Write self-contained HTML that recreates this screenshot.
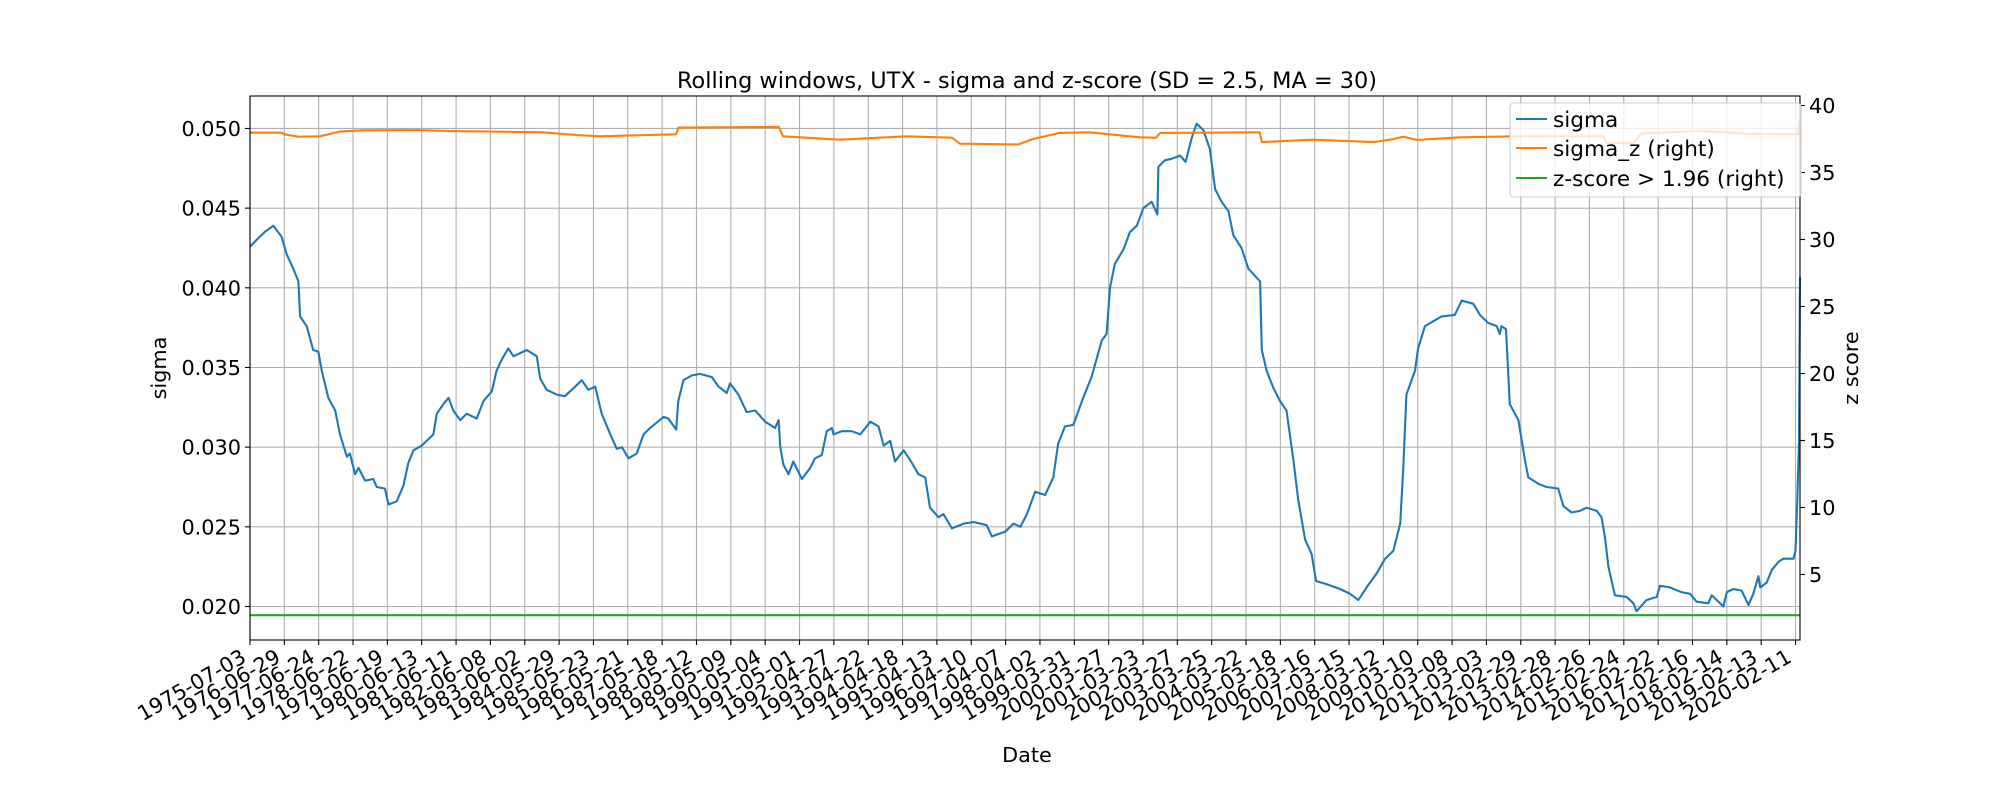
<!DOCTYPE html>
<html><head><meta charset="utf-8"><style>
html,body{margin:0;padding:0;background:#fff;}
svg{display:block;font-family:"DejaVu Sans","Liberation Sans",sans-serif;}
</style></head><body>
<svg id="chart" width="2000" height="800" viewBox="0 0 2000 800" xmlns="http://www.w3.org/2000/svg">
<rect x="0" y="0" width="2000" height="800" fill="#fff"/>
<g id="grid"></g>
<g id="series"></g>
<g id="axes"></g>
<text x="1027" y="88" font-size="22.4" text-anchor="middle">Rolling windows, UTX - sigma and z-score (SD = 2.5, MA = 30)</text>
<text x="1027" y="762" font-size="20.8" text-anchor="middle">Date</text>
<text transform="translate(166,368) rotate(-90)" font-size="20.8" text-anchor="middle">sigma</text>
<text transform="translate(1858,368) rotate(-90)" font-size="20.8" text-anchor="middle">z score</text>
<g>
<rect x="1510" y="103" width="291" height="94" rx="4" fill="#fff" fill-opacity="0.8" stroke="#cccccc" stroke-width="1.1"/>
<line x1="1516" y1="119" x2="1547" y2="119" stroke="#1f77b4" stroke-width="2.1"/>
<text x="1553" y="127" font-size="21.6">sigma</text>
<line x1="1516" y1="148" x2="1547" y2="148" stroke="#ff7f0e" stroke-width="2.1"/>
<text x="1553" y="156" font-size="21.6">sigma_z (right)</text>
<line x1="1516" y1="178" x2="1547" y2="178" stroke="#2ca02c" stroke-width="2.1"/>
<text x="1553" y="186" font-size="21.6">z-score &gt; 1.96 (right)</text>
</g>
</svg>
<script>
const tickDates = ["1975-07-03","1976-06-29","1977-06-24","1978-06-22","1979-06-19","1980-06-13","1981-06-11","1982-06-08","1983-06-02","1984-05-29","1985-05-23","1986-05-21","1987-05-18","1988-05-12","1989-05-09","1990-05-04","1991-05-01","1992-04-27","1993-04-22","1994-04-18","1995-04-13","1996-04-10","1997-04-07","1998-04-02","1999-03-31","2000-03-27","2001-03-23","2002-03-27","2003-03-25","2004-03-22","2005-03-18","2006-03-16","2007-03-15","2008-03-12","2009-03-10","2010-03-08","2011-03-03","2012-02-29","2013-02-28","2014-02-26","2015-02-24","2016-02-22","2017-02-16","2018-02-14","2019-02-13","2020-02-11"];
const leftTicks = [0.020,0.025,0.030,0.035,0.040,0.045,0.050];
const leftTickLabels = ["0.020","0.025","0.030","0.035","0.040","0.045","0.050"];
const rightTicks = [5,10,15,20,25,30,35,40];
const rightTickLabels = ["5","10","15","20","25","30","35","40"];
const sigmaT = [0,.19,.44,.68,.92,1.07,1.26,1.41,1.46,1.65,
1.84,1.99,2.09,2.28,2.48,2.62,2.82,2.91,3.06,3.16,
3.35,3.59,3.69,3.93,4.03,4.27,4.47,4.61,4.76,5.0,
5.34,5.44,5.63,5.78,5.92,6.12,6.31,6.60,6.80,7.04,
7.18,7.33,7.52,7.67,8.06,8.35,8.45,8.64,8.93,9.17,
9.42,9.66,9.85,10.05,10.24,10.49,10.68,10.83,11.02,11.26,
11.46,11.65,12.04,12.18,12.41,12.47,12.62,12.86,13.10,13.45,
13.64,13.88,13.98,14.22,14.46,14.71,15.0,15.29,15.39,15.44,
15.53,15.68,15.82,16.07,16.31,16.45,16.65,16.79,16.94,16.99,
17.23,17.52,17.77,18.06,18.30,18.45,18.64,18.78,19.03,19.22,
19.46,19.66,19.80,20.05,20.19,20.44,20.78,21.07,21.45,21.60,
21.99,22.23,22.43,22.62,22.86,23.15,23.39,23.53,23.73,23.97,
24.26,24.50,24.80,24.94,25.04,25.18,25.43,25.62,25.82,26.01,
26.25,26.42,26.45,26.64,26.83,27.08,27.24,27.42,27.56,27.76,
27.95,28.10,28.29,28.49,28.63,28.87,29.07,29.41,29.46,29.60,
29.80,29.99,30.18,30.38,30.52,30.72,30.91,31.04,31.35,31.74,
32.03,32.27,32.51,32.81,33.05,33.29,33.49,33.58,33.67,33.92,
34.01,34.21,34.45,34.69,35.08,35.28,35.62,35.81,36.05,36.30,
36.39,36.44,36.57,36.68,36.93,37.12,37.22,37.51,37.75,38.09,
38.24,38.48,38.72,38.92,39.21,39.35,39.45,39.55,39.74,40.08,
40.28,40.37,40.66,40.96,41.05,41.34,41.68,41.93,42.12,42.46,
42.56,42.90,43.0,43.19,43.43,43.63,43.77,43.92,43.97,44.16,
44.31,44.50,44.64,44.94,45.0,45.05,45.10,45.13];
const sigmaV = [.04259,.0430,.04353,.0439,.0432,.0421,.0412,.0404,.0382,.0376,
.0361,.0360,.0348,.0331,.0323,.0308,.0294,.0296,.0283,.0287,
.0279,.0280,.0275,.0274,.0264,.0266,.0276,.0290,.0298,.0301,
.0308,.0321,.0327,.0331,.0323,.0317,.0321,.0318,.0329,.0335,
.0348,.0355,.0362,.0357,.0361,.0357,.0343,.0336,.0333,.0332,
.0337,.0342,.0336,.0338,.0321,.0308,.0299,.0300,.0293,.0296,
.0308,.0312,.0319,.0318,.0311,.0329,.0342,.0345,.0346,.0344,
.0338,.0334,.0340,.0333,.0322,.0323,.0316,.0312,.0317,.0300,
.0289,.0283,.0291,.0280,.0287,.0293,.0295,.0310,.0312,.0308,
.0310,.0310,.0308,.0316,.0313,.0301,.0304,.0291,.0298,.0292,
.0283,.0281,.0262,.0256,.0258,.0249,.0252,.0253,.0251,.0244,
.0247,.0252,.0250,.0258,.0272,.0270,.0281,.0302,.0313,.0314,
.0331,.0344,.0367,.0371,.0400,.0415,.0424,.0435,.0439,.0450,
.0454,.0446,.0476,.0480,.0481,.0483,.0479,.0494,.0503,.0499,
.0487,.0462,.0454,.0448,.0433,.0425,.0412,.0404,.0361,.0348,
.0337,.0329,.0323,.0292,.0267,.0242,.0233,.0216,.0214,.0211,
.0208,.0204,.0212,.0221,.0230,.0235,.0252,.0287,.0333,.0348,
.0362,.0376,.0379,.0382,.0383,.0392,.0390,.0383,.0378,.0376,
.0371,.0376,.0374,.0327,.0317,.0292,.0281,.0277,.0275,.0274,
.0263,.0259,.0260,.0262,.0260,.0256,.0244,.0225,.0207,.0206,
.0202,.0197,.0204,.0206,.0213,.0212,.0209,.0208,.0203,.0202,
.0207,.0200,.0209,.0211,.0210,.0201,.0208,.0219,.0212,.0215,
.0223,.0228,.0230,.0230,.0235,.0267,.0304,.0407];
const zT = [0,0.92,1.0,1.41,2.04,2.6,3.3,4.9,5.8,7.0,8.5,9.5,10.19,12.4,12.48,15.4,15.52,17.18,18.3,19.1,20.44,20.67,22.37,22.8,23.56,24.45,25.91,26.38,26.5,29.4,29.46,30.95,32.73,33.3,33.58,33.97,35.23,36.85,39.4,39.5,40.3,40.5,42.2,43.0,43.5,45.08,45.1,45.13];
const zV = [37.97,37.97,37.85,37.67,37.7,38.05,38.15,38.17,38.1,38.05,38.0,37.8,37.7,37.85,38.35,38.4,37.7,37.45,37.6,37.7,37.6,37.15,37.1,37.5,37.95,38.0,37.63,37.6,37.95,38.0,37.27,37.45,37.27,37.5,37.67,37.43,37.63,37.7,37.7,37.2,37.2,37.9,38.1,38.0,37.9,37.85,38.8,38.7];
const zThreshold = [1.96];

const NS="http://www.w3.org/2000/svg";
const L=250,R=1800,T=96,B=640;
const X0=0,X1=45.13;
const xs=t=>L+(t-X0)/(X1-X0)*(R-L);
const yL=v=>606.5-(v-0.020)/0.005*79.67;
const yR=v=>574.5-(v-5)*13.4;
function mk(tag,attrs,parent){const e=document.createElementNS(NS,tag);for(const k in attrs)e.setAttribute(k,attrs[k]);parent.appendChild(e);return e;}
const grid=document.getElementById('grid'),series=document.getElementById('series'),axes=document.getElementById('axes');
tickDates.forEach((d,i)=>{
  const l=mk('line',{x1:xs(i),x2:xs(i),y1:T,y2:B,stroke:'#b0b0b0','stroke-width':1.1},grid);
  
  
});
leftTicks.forEach(v=>{
  const l=mk('line',{x1:L,x2:R,y1:yL(v),y2:yL(v),stroke:'#b0b0b0','stroke-width':1.1},grid);
  
  
});
const sp=sigmaT.map((t,i)=>xs(t).toFixed(1)+','+yL(sigmaV[i]).toFixed(1)).join(' ');
const s1=mk('polyline',{points:sp,fill:'none',stroke:'#1f77b4','stroke-width':2.1,'stroke-linejoin':'round'},series);


const zp=zT.map((t,i)=>xs(t).toFixed(1)+','+yR(zV[i]).toFixed(1)).join(' ');
const s2=mk('polyline',{points:zp,fill:'none',stroke:'#ff7f0e','stroke-width':2.1,'stroke-linejoin':'round'},series);


const g3=mk('line',{x1:xs(X0),x2:xs(X1),y1:yR(zThreshold[0]),y2:yR(zThreshold[0]),stroke:'#2ca02c','stroke-width':2.1},series);


const fr=mk('rect',{x:L,y:T,width:R-L,height:B-T,fill:'none',stroke:'#000','stroke-width':1.1},axes);


tickDates.forEach((d,i)=>{
  const x=xs(i);
  const tk=mk('line',{x1:x,x2:x,y1:B,y2:B+5,stroke:'#000','stroke-width':1.1},axes);
  
  
  const ax=x-2.5,ay=661;
  const tx=mk('text',{x:ax,y:ay,'font-size':20.8,'text-anchor':'end',transform:`rotate(-30 ${ax} ${ay})`},axes);
  tx.textContent=d;
  
  
});
leftTicks.forEach((v,i)=>{
  const y=yL(v);
  const tk=mk('line',{x1:L-5,x2:L,y1:y,y2:y,stroke:'#000','stroke-width':1.1},axes);
  
  
  const tx=mk('text',{x:L-9,y:y+7.5,'font-size':20.8,'text-anchor':'end'},axes);
  tx.textContent=leftTickLabels[i];
  
  
});
rightTicks.forEach((v,i)=>{
  const y=yR(v);
  const tk=mk('line',{x1:R,x2:R+5,y1:y,y2:y,stroke:'#000','stroke-width':1.1},axes);
  
  
  const tx=mk('text',{x:R+9,y:y+7.5,'font-size':20.8,'text-anchor':'start'},axes);
  tx.textContent=rightTickLabels[i];
  
  
});
</script>
</body></html>
